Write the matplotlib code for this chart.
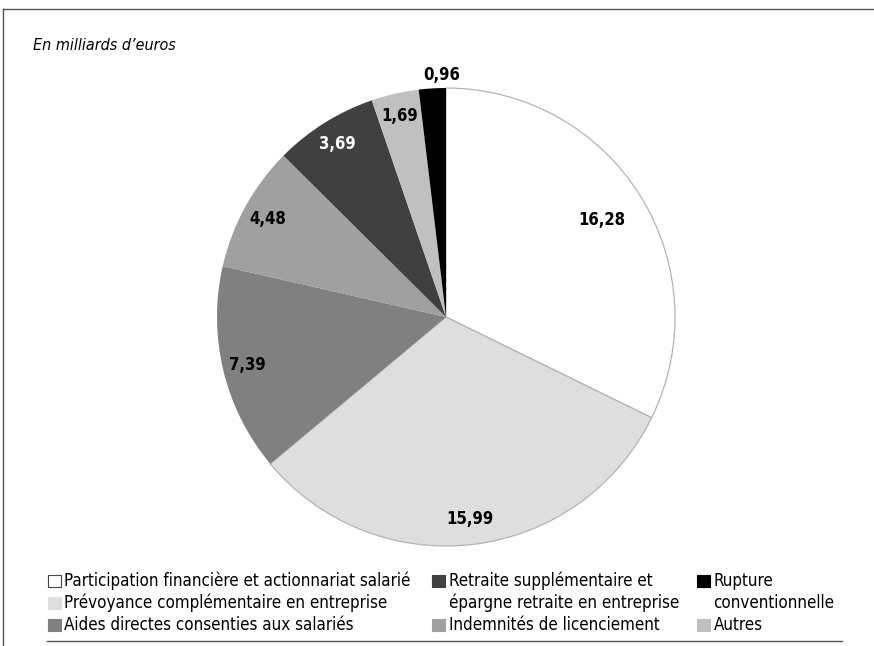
import numpy as np
import matplotlib.pyplot as plt
import matplotlib.font_manager as fm
from matplotlib.lines import Line2D
from matplotlib.patches import Rectangle

# police étroite si disponible, sinon Lato
available = {(f.name, f.stretch) for f in fm.fontManager.ttflist}
if ("DejaVu Sans", "condensed") in available or ("DejaVu Sans", 75) in available:
    FAMILY, STRETCH = "DejaVu Sans", "condensed"
else:
    FAMILY, STRETCH = "Lato", "normal"
plt.rcParams["font.family"] = [FAMILY, "DejaVu Sans"]
plt.rcParams["font.stretch"] = STRETCH

# Montants en milliards d'euros
categories = [
    "Participation financière et actionnariat salarié",
    "Prévoyance complémentaire en entreprise",
    "Aides directes consenties aux salariés",
    "Indemnités de licenciement",
    "Retraite supplémentaire et\népargne retraite en entreprise",
    "Autres",
    "Rupture\nconventionnelle",
]
values = [16.28, 15.99, 7.39, 4.48, 3.69, 1.69, 0.96]
value_labels = ["16,28", "15,99", "7,39", "4,48", "3,69", "1,69", "0,96"]

colors = ["#ffffff", "#dedede", "#808080", "#a0a0a0", "#404040", "#c0c0c0", "#000000"]
text_colors = ["black", "black", "black", "black", "white", "black", "black"]
label_radius = [0.80, 0.89, 0.89, 0.89, 0.89, 0.90, 1.06]

W, H = 874, 646
fig = plt.figure(figsize=(W / 100, H / 100), dpi=100)

# cadre : trait haut, trait gauche, trait bas
frame = "#555555"
fig.add_artist(Line2D([3 / W, 1], [1 - 9 / H, 1 - 9 / H], color=frame, lw=1.0))
fig.add_artist(Line2D([3 / W, 3 / W], [0, 1 - 9 / H], color=frame, lw=1.0))
fig.add_artist(Line2D([47 / W, 842 / W], [1 - 641 / H, 1 - 641 / H], color=frame, lw=1.0))

fig.text(33 / W, 1 - 45 / H, "En milliards d\u2019euros", fontsize=11.5, style="italic",
         va="center", ha="left")

# camembert
cx, cy, r = 446, 317, 229
ax = fig.add_axes([(cx - r) / W, (H - cy - r) / H, 2 * r / W, 2 * r / H])
wedges, _ = ax.pie(values, colors=colors, startangle=90, counterclock=False,
                   radius=1.0, wedgeprops=dict(linewidth=0))
for w in wedges[:2]:
    w.set_edgecolor("#b4b4b4")
    w.set_linewidth(0.9)
ax.set_xlim(-1, 1)
ax.set_ylim(-1, 1)
ax.set_aspect("equal")
ax.axis("off")

total = sum(values)
start = 90.0
for v, lab, tc, lr in zip(values, value_labels, text_colors, label_radius):
    span = v / total * 360
    mid = np.deg2rad(start - span / 2)
    start -= span
    x, y = lr * np.cos(mid), lr * np.sin(mid)
    if lab == "0,96":
        x = -0.02
    ax.text(x, y, lab, ha="center", va="center", fontsize=12, fontweight="bold",
            color=tc)

# légende en trois colonnes (colonne, ligne) pour chaque catégorie
slots = [(0, 0), (0, 1), (0, 2), (1, 2), (1, 0), (2, 2), (2, 0)]
col_x = [48, 432, 697]
row_y = [581, 603, 625]
box = 12.5
for cat, col, (c, rw) in zip(categories, colors, slots):
    x0, y0 = col_x[c], row_y[rw]
    fig.add_artist(Rectangle((x0 / W, (H - y0 - box / 2) / H), box / W, box / H,
                             facecolor=col, lw=0.8,
                             edgecolor="#444444" if col == "#ffffff" else col))
    for k, line in enumerate(cat.split("\n")):
        fig.text((x0 + box + 4) / W, 1 - (y0 + 22 * k) / H, line, fontsize=12.2,
                 va="center", ha="left")

fig.savefig("out.png", dpi=100)
